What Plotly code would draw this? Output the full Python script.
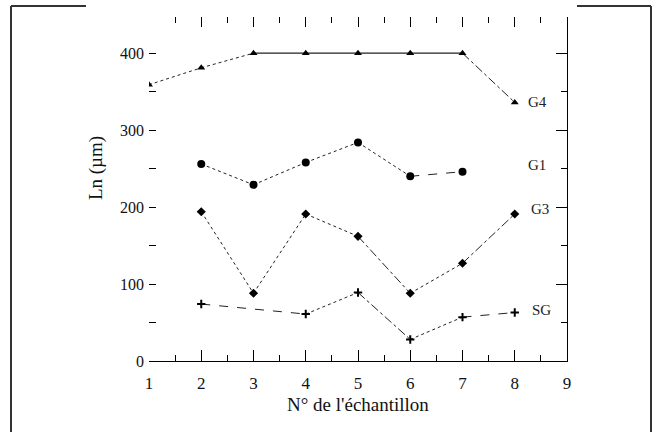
import plotly.graph_objects as go

# ---- data ----
samples_g4 = [1, 2, 3, 4, 5, 6, 7, 8]
ln_g4 = [359, 381, 400, 400, 400, 400, 400, 336]
dash_g4 = ["dot", "dot", "solid", "solid", "solid", "solid", "dashdot"]

samples_g1 = [2, 3, 4, 5, 6, 7]
ln_g1 = [256, 229, 258, 284, 240, 246]
dash_g1 = ["dot", "dot", "dot", "dot", "dash"]

samples_g3 = [2, 3, 4, 5, 6, 7, 8]
ln_g3 = [194, 88, 191, 162, 88, 127, 191]
dash_g3 = ["dot", "dot", "dot", "dashdot", "dot", "dashdot"]

samples_sg = [2, 4, 5, 6, 7, 8]
ln_sg = [74, 61, 89, 28, 57, 63]
dash_sg = ["dash", "dot", "dashdot", "dot", "dash"]

series = [
    ("G4", samples_g4, ln_g4, dash_g4, "triangle-up", 7),
    ("G1", samples_g1, ln_g1, dash_g1, "circle", 8),
    ("G3", samples_g3, ln_g3, dash_g3, "diamond", 7),
    ("SG", samples_sg, ln_sg, dash_sg, "cross-thin-open", 6),
]

x_ticks = [1, 2, 3, 4, 5, 6, 7, 8, 9]
y_ticks = [0, 100, 200, 300, 400]

SERIF = "Liberation Serif, Times New Roman, serif"

fig = go.Figure()
for name, xs, ys, dashes, sym, size in series:
    for i, d in enumerate(dashes):
        fig.add_trace(go.Scatter(
            x=xs[i:i + 2], y=ys[i:i + 2], mode="lines",
            line=dict(color="#222", width=1.2 if d == "solid" else 1, dash=d),
            showlegend=False, hoverinfo="skip"))
    fig.add_trace(go.Scatter(
        x=xs, y=ys, mode="markers", name=name,
        marker=dict(symbol=sym, size=size, color="black",
                    line=dict(color="black", width=2 if "cross" in sym else 0)),
        showlegend=False))

# invisible trace so the top/right axes are drawn
fig.add_trace(go.Scatter(x=[1], y=[0], xaxis="x2", yaxis="y2", mode="markers",
                         marker=dict(opacity=0), showlegend=False, hoverinfo="skip"))

# series labels at line ends
labels = [("G4", 8.22, 336), ("G1", 8.22, 255), ("G3", 8.28, 197), ("SG", 8.3, 66)]
for txt, lx, ly in labels:
    fig.add_annotation(x=lx, y=ly, text=txt, showarrow=False, xanchor="left",
                       font=dict(family=SERIF, size=15, color="#222"))

yr = [0, 447]
fig.update_layout(
    width=656, height=432,
    margin=dict(l=149, r=89, t=17, b=71),
    paper_bgcolor="white", plot_bgcolor="white",
    font=dict(family=SERIF, color="#111"),
    xaxis=dict(range=[1, 9], tickvals=x_ticks, ticks="inside", ticklen=11,
               tickcolor="black", showline=True, linecolor="black", linewidth=1.2,
               showgrid=False, zeroline=False, tickfont=dict(size=17, family=SERIF),
               ticklabelstandoff=6,
               minor=dict(ticks="inside", ticklen=6, dtick=0.5, tick0=1, tickcolor="black")),
    xaxis2=dict(range=[1, 9], overlaying="x", side="top", tickvals=x_ticks,
                ticks="inside", ticklen=10, tickcolor="black", showline=False,
                showticklabels=False, showgrid=False, zeroline=False,
                minor=dict(ticks="inside", ticklen=6, dtick=0.5, tick0=1, tickcolor="black")),
    yaxis=dict(range=yr, tickvals=y_ticks, ticks="inside", ticklen=7, tickcolor="black",
               showline=False, showgrid=False, zeroline=False,
               tickfont=dict(size=16, family=SERIF), ticklabelstandoff=4,
               minor=dict(ticks="inside", ticklen=7, dtick=50, tick0=0, tickcolor="black")),
    yaxis2=dict(range=yr, overlaying="y", side="right", tickvals=y_ticks,
                ticks="inside", ticklen=11, tickcolor="black", showline=True,
                linecolor="black", linewidth=1.2, showticklabels=False,
                showgrid=False, zeroline=False,
                minor=dict(ticks="inside", ticklen=6, dtick=50, tick0=0, tickcolor="black")),
)

# axis titles
fig.add_annotation(xref="paper", yref="paper", x=0.5, y=-0.125, yanchor="middle",
                   text="N° de l'échantillon", showarrow=False,
                   font=dict(family=SERIF, size=19, color="#111"))
fig.add_annotation(xref="paper", yref="paper", x=-0.125, y=0.56, textangle=-90,
                   xanchor="center", yanchor="middle",
                   text="Ln (µm)", showarrow=False,
                   font=dict(family=SERIF, size=19, color="#111"))

# outer frame (scanned figure border)
fx0, fx1 = (11 - 149) / 418, (651 - 149) / 418
fy_top = (361 - 6) / 344
fy_bot = -0.3
frame = dict(color="#333", width=2)
fig.add_shape(type="line", xref="paper", yref="paper", x0=fx0, x1=fx0, y0=fy_bot, y1=fy_top, line=frame)
fig.add_shape(type="line", xref="paper", yref="paper", x0=fx1, x1=fx1, y0=fy_bot, y1=fy_top, line=frame)
fig.add_shape(type="line", xref="paper", yref="paper", x0=fx0, x1=(86 - 149) / 418, y0=fy_top, y1=fy_top, line=frame)
fig.add_shape(type="line", xref="paper", yref="paper", x0=(577 - 149) / 418, x1=fx1, y0=fy_top, y1=fy_top, line=frame)

fig.write_html("out.html", config={"displayModeBar": False},
               post_script="document.body.style.margin='0';document.body.style.overflow='hidden';")
